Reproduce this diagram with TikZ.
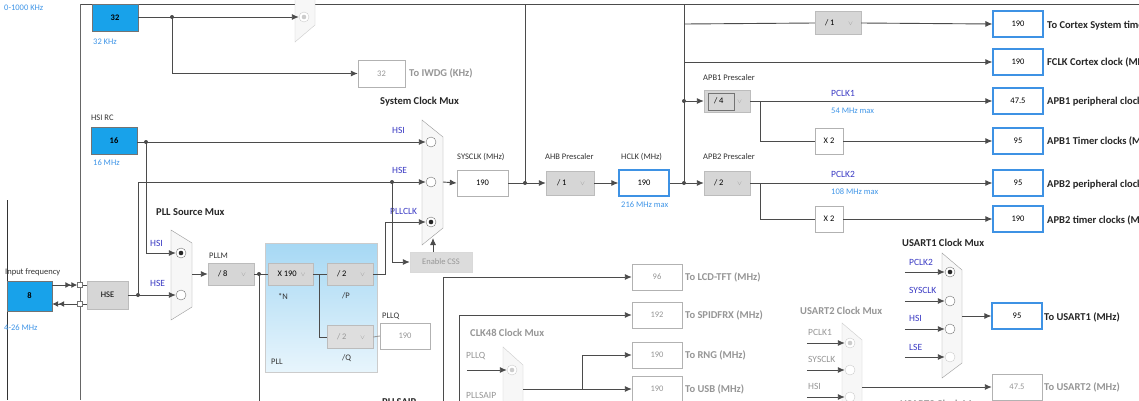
\documentclass[tikz,border=0pt]{standalone}
\usepackage{fontspec}
\setmainfont{Carlito}
\usepackage{amsmath,amssymb}
\usepackage{xcolor}
\usetikzlibrary{arrows.meta}

\definecolor{wirecol}{RGB}{75,75,75}
\definecolor{oscblue}{RGB}{24,162,234}
\definecolor{boxblue}{RGB}{62,146,228}
\definecolor{hintblue}{RGB}{64,150,232}
\definecolor{srcblue}{RGB}{58,58,196}
\definecolor{selgrey}{RGB}{214,214,214}
\definecolor{seledge}{RGB}{188,188,188}
\definecolor{offgrey}{RGB}{150,150,150}
\definecolor{muxgrey}{RGB}{247,247,247}
\definecolor{pllhi}{RGB}{166,216,244}
\definecolor{plllo}{RGB}{232,245,252}

\newcommand{\selval}[1]{\makebox[40pt][l]{\hspace{7pt}#1\hfill\textcolor{black!40}{$\scriptstyle\vee$}\hspace{5pt}}}

\begin{document}
\begin{tikzpicture}[x=1pt,y=-1pt,
  every node/.style={font=\fontsize{8.5}{10}\selectfont, inner sep=0pt},
  lbl/.style={anchor=west, text=black!80},
  hdr/.style={anchor=west, text=black!85, font=\fontsize{10.5}{12}\selectfont\bfseries},
  offhdr/.style={hdr, text=offgrey},
  offlbl/.style={anchor=west, text=offgrey, font=\fontsize{9.5}{11}\selectfont},
  hint/.style={anchor=west, text=hintblue},
  src/.style={anchor=west, text=srcblue, font=\fontsize{9.5}{11}\selectfont},
  osc/.style={draw=black!55, fill=oscblue, minimum width=46pt, minimum height=27pt, font=\fontsize{8.5}{10}\selectfont\bfseries},
  outval/.style={draw=boxblue, line width=1.2pt, fill=white, minimum width=50pt, minimum height=26pt},
  plainval/.style={draw=black!30, fill=white, minimum width=50pt, minimum height=26pt},
  offval/.style={plainval, text=offgrey},
  selbox/.style={draw=seledge, fill=selgrey, minimum width=46pt, minimum height=23pt},
  offsel/.style={selbox, fill=selgrey!80, text=offgrey},
  mulbox/.style={draw=black!30, fill=white, minimum width=28pt, minimum height=26pt},
  radio/.style={circle, draw=black!55, fill=white, minimum size=10pt},
  radiooff/.style={radio, draw=black!20},
  radioon/.style={radio, path picture={\fill[black!85] (path picture bounding box.center) circle (2.3pt);}},
  radiodim/.style={radiooff, path picture={\fill[black!20] (path picture bounding box.center) circle (2.3pt);}},
  muxbody/.style={draw=black!40, fill=muxgrey},
  muxoff/.style={draw=black!20, fill=muxgrey},
  wire/.style={draw=wirecol, line width=0.9pt},
  feed/.style={wire, -{Latex[length=7pt,width=6pt]}},
  junc/.style={circle, fill=wirecol, minimum size=4pt},
  port/.style={draw=black!55, fill=white, minimum size=5pt},
]
\useasboundingbox (0,0) rectangle (1139,400);
\fill[white] (0,0) rectangle (1139,400);
\clip (0,0) rectangle (1139,400);

% frame
\draw[wire, draw=black!70] (80,4) -- (1139,4);
\draw[wire, draw=black!60] (80,4) -- (80,400);
\draw[wire, draw=black!80] (7,200) -- (7,400);
\node[hint] at (4,8) {0-1000 KHz};

% LSE
\node[osc] (lse) at (115,17.5) {32};
\node[hint] at (93,42) {32 KHz};
\draw[muxoff] (295,-10) -- (315,-5) -- (315,25) -- (295,42) -- cycle;
\node[radiodim] (rtcLSE) at (304,17) {};
\node[junc] (lseJ) at (172,17) {};
\draw[wire] (lse.east |- lseJ) -- (lseJ.center);
\draw[feed] (lseJ.center) -- (rtcLSE.west);
\node[offval, minimum width=47pt, minimum height=27pt] (iwdg) at (381.5,73.5) {32};
\node[offhdr] at (409,73) {To IWDG (KHz)};
\draw[feed] (lseJ.center) |- (iwdg.west);

% HSI
\node[lbl] at (91,118) {HSI RC};
\node[osc] (hsi) at (114,141) {16};
\node[hint] at (93,163) {16 MHz};
\node[junc] (hsiJ) at (146,142) {};

% system clock mux
\node[hdr] at (380,102) {System Clock Mux};
\draw[muxbody] (422,120) -- (443,137) -- (443,228) -- (422,245) -- cycle;
\node[radio] (sysHSI) at (431,142) {};
\node[radio] (sysHSE) at (431,182) {};
\node[radioon] (sysPLL) at (431,222) {};
\node[src] at (392,130) {HSI};
\node[src] at (392,170) {HSE};
\node[src] at (390,211) {PLLCLK};
\draw[wire] (hsi.east |- hsiJ) -- (hsiJ.center);
\draw[feed] (hsiJ.center) -- (sysHSI.west);

% PLL source mux
\node[hdr] at (156,212) {PLL Source Mux};
\draw[muxbody] (171,230) -- (192,243) -- (192,307) -- (171,320) -- cycle;
\node[radioon] (srcHSI) at (181,253) {};
\node[radio] (srcHSE) at (181,295) {};
\node[src] at (150,243) {HSI};
\node[src] at (150,283) {HSE};
\draw[feed] (hsiJ.center) |- (srcHSI.west);
\node[selbox, minimum width=41pt, minimum height=28pt] (hse) at (107.5,295) {HSE};
\node[junc] (hseJ) at (138,295) {};
\node[junc] (cssJ) at (392,182) {};
\draw[wire] (hse.east) -- (hseJ.center);
\draw[feed] (hseJ.center) -- (srcHSE.west);
\draw[feed] (hseJ.center) |- (sysHSE.west);

% HSE input
\node[lbl] at (5,272) {Input frequency};
\node[osc, minimum width=45pt, minimum height=30pt] (hseIn) at (29.5,296) {8};
\node[hint] at (4,328) {4-26 MHz};
\node[port] (portA) at (80,285) {};
\node[port] (portB) at (80,304) {};
\draw[wire, -{Latex[length=6pt,width=6pt]Latex[length=6pt,width=6pt]}] (hseIn.east |- portA) -- (portA.west);
\draw[wire, {Latex[length=6pt,width=6pt]Latex[length=6pt,width=6pt]}-] (hseIn.east |- portB) -- (portB.west);
\draw[wire] (portA.east) -- (hse.west |- portA);
\draw[wire] (portB.east) -- (hse.west |- portB);

% PLLM
\coordinate (srcOut) at (192,274);
\node[lbl] at (209,256) {PLLM};
\node[selbox, minimum height=22pt] (pllm) at (231,274) {\selval{/ 8}};
\draw[feed] (srcOut) -- (pllm.west);
\node[junc] (pllmJ) at (259,274) {};
\coordinate (pllmDown) at (259,410);
\draw[wire] (pllm.east) -- (pllmJ.center) -- (pllmDown);

% PLL
\shade[top color=pllhi, bottom color=plllo, draw=black!20] (265,243) rectangle (377,372);
\node[selbox, minimum width=45pt, minimum height=22pt] (muln) at (290.5,274) {\selval{X 190}};
\node[lbl] at (278,296) {*N};
\node[selbox, minimum height=22pt] (divp) at (350,274) {\selval{/ 2}};
\node[lbl] at (342,296) {/P};
\node[offsel] (divq) at (350,337) {\selval{/ 2}};
\node[lbl] at (342,358) {/Q};
\node[lbl] at (271,362) {PLL};
\draw[wire] (pllmJ.center) -- (muln.west);
\draw[wire] (muln.east) -- (divp.west);
\coordinate (nSplit) at (319,274);
\draw[wire] (nSplit) |- (divq.west);
\coordinate (pBend) at (385,274);
\draw[feed] (divp.east) -- (pBend) |- (sysPLL.west);

% CSS
\node[selbox, minimum width=62pt, minimum height=20pt, fill=selgrey!85, draw=black!15, text=offgrey] (css) at (441,262) {Enable CSS};
\draw[feed] (cssJ.center) |- (css.west);
\coordinate (sysBase) at (433,238);
\draw[feed] (css.north -| sysBase) -- (sysBase);

% PLLQ
\node[lbl] at (382,316) {PLLQ};
\node[offval] (pllq) at (405,336) {190};
\draw[wire, draw=black!40] (divq.east) -- (pllq.west);

% SYSCLK, AHB, HCLK
\coordinate (sysOut) at (443,182);
\node[lbl] at (457,157) {SYSCLK (MHz)};
\node[plainval, minimum width=51pt] (sysclk) at (482.5,183) {190};
\draw[feed] (sysOut) -- (sysclk.west);
\node[junc] (sysJ) at (525,183) {};
\coordinate (sysUp) at (525,4);
\draw[wire] (sysclk.east) -- (sysJ.center) -- (sysUp);
\node[lbl] at (545,157) {AHB Prescaler};
\node[selbox, minimum width=48pt, minimum height=24pt] (ahb) at (570,183) {\selval{/ 1}};
\draw[feed] (sysJ.center) -- (ahb.west);
\node[lbl] at (621,157) {HCLK (MHz)};
\node[outval] (hclk) at (644,183) {190};
\node[hint] at (621,205) {216 MHz max};
\draw[feed] (ahb.east) -- (hclk.west);
\node[junc] (hclkJ) at (684,183) {};
\node[junc] (apb1J) at (684,101) {};
\coordinate (hclkUp) at (684,4);
\draw[wire] (hclk.east) -- (hclkJ.center) -- (hclkUp);

% Cortex
\coordinate (tickT) at (684,24);
\coordinate (fclkT) at (684,62);
\node[selbox, minimum height=23pt] (tickdiv) at (838,23) {\selval{/ 1}};
\node[outval] (tick) at (1018,24) {190};
\node[hdr] at (1047,25) {To Cortex System timer (MHz)};
\draw[wire] (tickT) -- (tickdiv.west);
\draw[feed] (tickdiv.east) -- (tick.west);
\node[outval] (fclk) at (1018,62) {190};
\node[hdr] at (1047,62) {FCLK Cortex clock (MHz)};
\draw[feed] (fclkT) -- (fclk.west);

% APB1
\node[lbl] at (703,78) {APB1 Prescaler};
\node[selbox, minimum height=22pt] (apb1) at (727,101) {\selval{/ 4}};
\draw[black!55] (708,93) rectangle (734,110);
\draw[feed] (apb1J.center) -- (apb1.west);
\coordinate (apb1T) at (760,101);
\node[outval] (pclk1) at (1018,101) {47.5};
\node[hdr] at (1047,101) {APB1 peripheral clocks (MHz)};
\node[src] at (831,93) {PCLK1};
\node[hint] at (831,111) {54 MHz max};
\draw[feed] (apb1.east) -- (pclk1.west);
\node[mulbox] (x2a) at (829,141) {X 2};
\node[outval] (tim1) at (1018,141) {95};
\node[hdr] at (1047,141) {APB1 Timer clocks (MHz)};
\draw[wire] (apb1T) |- (x2a.west);
\draw[feed] (x2a.east) -- (tim1.west);

% APB2
\node[lbl] at (703,157) {APB2 Prescaler};
\node[selbox, minimum height=24pt] (apb2) at (727,183) {\selval{/ 2}};
\draw[feed] (hclkJ.center) -- (apb2.west);
\coordinate (apb2T) at (760,183);
\node[outval] (pclk2) at (1018,183) {95};
\node[hdr] at (1047,184) {APB2 peripheral clocks (MHz)};
\node[src] at (831,174) {PCLK2};
\node[hint] at (831,192) {108 MHz max};
\draw[feed] (apb2.east) -- (pclk2.west);
\node[mulbox] (x2b) at (829,219) {X 2};
\node[outval] (tim2) at (1018,219) {190};
\node[hdr] at (1047,220) {APB2 timer clocks (MHz)};
\draw[wire] (apb2T) |- (x2b.west);
\draw[feed] (x2b.east) -- (tim2.west);

% USART1
\node[hdr] at (902,243) {USART1 Clock Mux};
\draw[muxbody] (942,253) -- (962,270) -- (962,363) -- (942,378) -- cycle;
\node[radioon] (u1PCLK) at (950,272) {};
\node[radio] (u1SYS) at (950,301) {};
\node[radio] (u1HSI) at (950,329) {};
\node[radiooff] (u1LSE) at (950,357) {};
\node[src] at (909,262) {PCLK2};
\node[src] at (909,290) {SYSCLK};
\node[src] at (909,318) {HSI};
\node[src] at (909,347) {LSE};
\draw[feed] (u1PCLK.west) ++(-40,0) -- (u1PCLK.west);
\draw[feed] (u1SYS.west) ++(-40,0) -- (u1SYS.west);
\draw[feed] (u1HSI.west) ++(-40,0) -- (u1HSI.west);
\draw[feed] (u1LSE.west) ++(-40,0) -- (u1LSE.west);
\coordinate (u1Out) at (962,316);
\node[outval] (u1) at (1017,316) {95};
\node[hdr] at (1044,317) {To USART1 (MHz)};
\draw[feed] (u1Out) -- (u1.west);

% USART2
\node[offhdr] at (800,311) {USART2 Clock Mux};
\draw[muxoff] (842,323) -- (862,340) -- (862,430) -- (842,450) -- cycle;
\node[radiodim] (u2PCLK) at (850,343) {};
\node[radiooff] (u2SYS) at (850,370) {};
\node[radiooff] (u2HSI) at (850,397) {};
\node[offlbl] at (808,332) {PCLK1};
\node[offlbl] at (808,359) {SYSCLK};
\node[offlbl] at (808,386) {HSI};
\draw[feed] (u2PCLK.west) ++(-38,0) -- (u2PCLK.west);
\draw[feed] (u2SYS.west) ++(-38,0) -- (u2SYS.west);
\draw[feed] (u2HSI.west) ++(-38,0) -- (u2HSI.west);
\coordinate (u2Out) at (862,387);
\node[offval] (u2) at (1017,387) {47.5};
\node[offhdr] at (1044,387) {To USART2 (MHz)};
\draw[feed] (u2Out) -- (u2.west);
\node[offhdr] at (900,404) {USART3 Clock Mux};

% LCD-TFT, SPDIFRX
\coordinate (lcdDown) at (443,410);
\node[offval] (lcd) at (657,277) {96};
\node[offhdr] at (685,277) {To LCD-TFT (MHz)};
\draw[feed] (lcdDown) |- (lcd.west);
\coordinate (spdDown) at (459,410);
\node[offval] (spd) at (657,315) {192};
\node[offhdr] at (685,315) {To SPIDFRX (MHz)};
\draw[feed] (spdDown) |- (spd.west);

% CLK48
\node[offhdr] at (470,333) {CLK48 Clock Mux};
\draw[muxoff] (503,347) -- (523,365) -- (523,430) -- (503,450) -- cycle;
\node[radiodim] (c48Q) at (512,370) {};
\node[offlbl] at (466,356) {PLLQ};
\node[offlbl] at (466,395) {PLLSAIP};
\draw[feed] (c48Q.west) ++(-40,0) -- (c48Q.west);
\coordinate (c48Out) at (523,389);
\node[offval] (rng) at (657,355) {190};
\node[offhdr] at (685,355) {To RNG (MHz)};
\node[offval] (usb) at (657,389) {190};
\node[offhdr] at (685,389) {To USB (MHz)};
\draw[feed] (c48Out) -- (usb.west);
\coordinate (c48T) at (582,389);
\draw[feed] (c48T) |- (rng.west);
\node[hdr] at (382,402) {PLLSAIP};
\end{tikzpicture}
\end{document}
